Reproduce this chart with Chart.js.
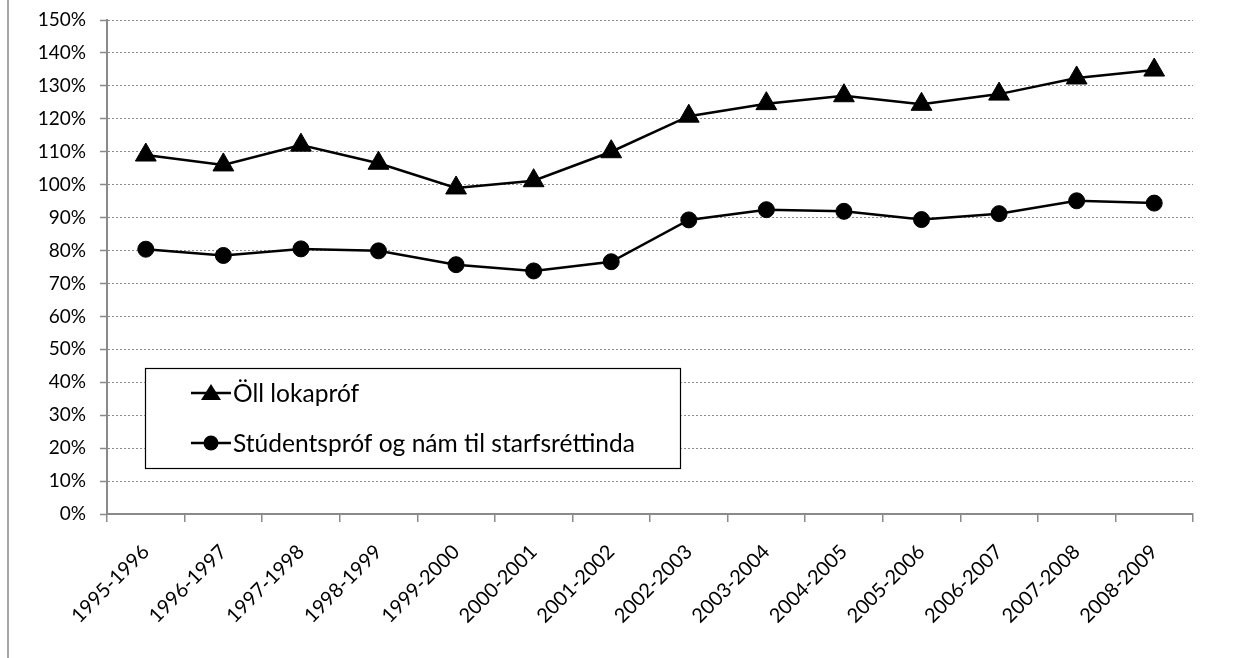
<!DOCTYPE html>
<html>
<head>
<meta charset="utf-8">
<script src="https://cdn.jsdelivr.net/npm/chart.js@4.4.0/dist/chart.umd.min.js"></script>
<style>
html,body{margin:0;padding:0;background:#fff;}
#wrap{position:relative;width:1248px;height:658px;overflow:hidden;background:#fff;}
#frame{position:absolute;left:7px;top:0;width:2px;height:658px;background:#a6a6a6;}
canvas{position:absolute;left:0;top:0;}
</style>
</head>
<body>
<div id="wrap">
  <canvas id="c" width="1248" height="658"></canvas>
  <div id="frame"></div>
</div>
<script>
// ---- data ----
const categories = ["1995-1996","1996-1997","1997-1998","1998-1999","1999-2000","2000-2001","2001-2002","2002-2003","2003-2004","2004-2005","2005-2006","2006-2007","2007-2008","2008-2009"];
const allExamsLabel = "Öll lokapróf";
const allExams = [109, 106, 112, 106.5, 99, 101.2, 110, 120.8, 124.6, 127, 124.4, 127.5, 132.4, 134.8];
const matricLabel = "Stúdentspróf og nám til starfsréttinda";
const matricVocational = [80.4, 78.5, 80.5, 79.9, 75.7, 73.8, 76.6, 89.3, 92.4, 91.9, 89.4, 91.2, 95.1, 94.4];
const yMin = 0, yMax = 150, yStep = 10;

const FONT = "Lato";

const legendPlugin = {
  id: 'boxLegend',
  afterDraw(chart) {
    const ctx = chart.ctx;
    const box = {x: 145, y: 368, w: 535, h: 100};
    ctx.save();
    ctx.fillStyle = '#fff';
    ctx.fillRect(box.x, box.y, box.w, box.h);
    ctx.strokeStyle = '#000';
    ctx.lineWidth = 1.2;
    ctx.strokeRect(box.x + 0.5, box.y + 0.5, box.w, box.h);
    ctx.font = `20px ${FONT}`;
    const longest = chart.data.datasets.reduce((m, d) => Math.max(m, ctx.measureText(d.label).width), 0);
    const fs = 20 * 402 / longest;
    ctx.font = `${fs.toFixed(2)}px ${FONT}`;
    ctx.textBaseline = 'middle';
    ctx.fillStyle = '#000';
    const rows = [393, 443];
    chart.data.datasets.forEach((ds, i) => {
      const y = rows[i];
      ctx.strokeStyle = '#000';
      ctx.lineWidth = 2.5;
      ctx.beginPath();
      ctx.moveTo(191, y);
      ctx.lineTo(231, y);
      ctx.stroke();
      ctx.fillStyle = '#000';
      ctx.beginPath();
      if (ds.pointStyle === 'triangle') {
        ctx.moveTo(211, y - 9);
        ctx.lineTo(221, y + 7);
        ctx.lineTo(201, y + 7);
        ctx.closePath();
      } else {
        ctx.arc(211, y, 7.5, 0, Math.PI * 2);
      }
      ctx.fill();
      ctx.fillText(ds.label, 233, y + 1);
    });
    ctx.restore();
  }
};

new Chart(document.getElementById('c'), {
  type: 'line',
  data: {
    labels: categories,
    datasets: [
      {
        label: allExamsLabel,
        data: allExams,
        borderColor: '#000',
        borderWidth: 2.5,
        pointStyle: 'triangle',
        pointRadius: 12,
        pointHoverRadius: 12,
        pointBackgroundColor: '#000',
        pointBorderColor: '#000',
        pointBorderWidth: 1,
        tension: 0,
        fill: false
      },
      {
        label: matricLabel,
        data: matricVocational,
        borderColor: '#000',
        borderWidth: 2.5,
        pointStyle: 'circle',
        pointRadius: 8,
        pointHoverRadius: 8,
        pointBackgroundColor: '#000',
        pointBorderColor: '#000',
        pointBorderWidth: 1,
        tension: 0,
        fill: false
      }
    ]
  },
  options: {
    responsive: false,
    animation: false,
    devicePixelRatio: 1,
    layout: {padding: {left: 8, right: 55, top: 20, bottom: 0}},
    plugins: {legend: {display: false}, tooltip: {enabled: false}, title: {display: false}},
    scales: {
      x: {
        type: 'category',
        offset: true,
        grid: {offset: true, drawOnChartArea: false, drawTicks: true, tickLength: 8, color: '#8a8a8a', tickColor: '#8a8a8a', lineWidth: 1.5, tickWidth: 1.5},
        border: {display: true, color: '#8a8a8a', width: 2},
        ticks: {autoSkip: false, minRotation: 45, maxRotation: 46, padding: 18, color: '#000', font: {family: FONT, size: 20}},
        afterFit(scale) { scale.height = 658 - 514; }
      },
      y: {
        min: yMin,
        max: yMax,
        ticks: {stepSize: yStep, padding: 14, color: '#000', font: {family: FONT, size: 19}, callback: v => v + '%'},
        grid: {color: '#8c8c8c', lineWidth: 1, tickLength: 7, tickColor: '#8a8a8a', tickWidth: 1.5, tickBorderDash: []},
        border: {display: true, color: '#8a8a8a', width: 2, dash: [2, 2]},
        afterFit(scale) { scale.width = 99; scale.paddingTop = 0; scale.paddingBottom = 0; }
      }
    }
  },
  plugins: [legendPlugin]
});
</script>
</body>
</html>
